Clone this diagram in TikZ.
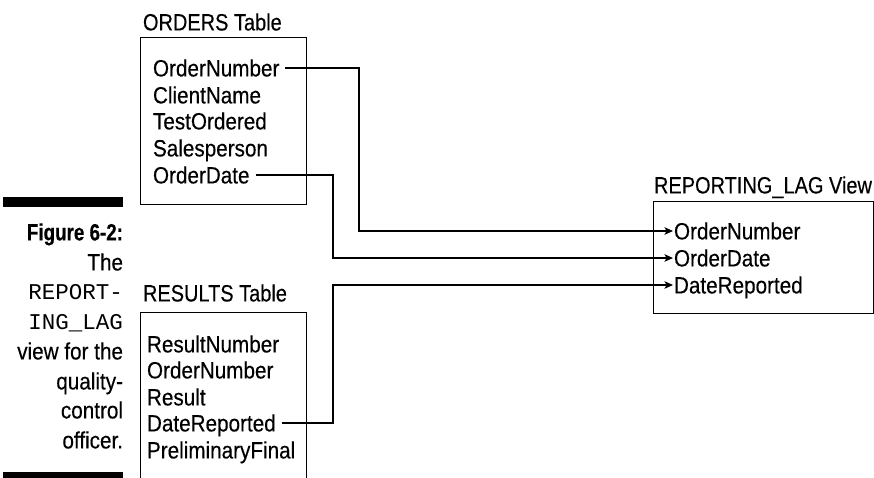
\documentclass[tikz,border=0pt]{standalone}
\usepackage{fontspec}
\setmainfont[FakeStretch=0.88,FakeBold=0.3,BoldFeatures={FakeStretch=0.8}]{Liberation Sans}
\newfontfamily\titlefont[FakeStretch=0.85,FakeBold=0.3]{Liberation Sans}
\setmonofont{Liberation Mono}
\usetikzlibrary{arrows.meta}
\begin{document}
\begin{tikzpicture}[x=1pt,y=-1pt,
  txt/.style={inner sep=0pt,outer sep=0pt,font=\fontsize{23.5}{28}\selectfont,text height=16.8pt,text depth=0pt},
  fld/.style={txt,anchor=west},
  ttl/.style={fld,font=\fontsize{23.5}{28}\titlefont},
  capline/.style={txt,anchor=east},
  tbl/.style={draw=black,line width=1pt},
  link/.style={draw=black,line width=1.1pt},
  arr/.style={link,-{Stealth[length=8.5pt,width=7.5pt,inset=2pt]}},
  bar/.style={fill=black,draw=none}]
\useasboundingbox (0,0) rectangle (874,477);
% caption
\fill[bar] (3,197) rectangle (123,207);
\fill[bar] (3,472) rectangle (123,480);
\node[capline,font=\fontsize{23.5}{28}\bfseries\selectfont] (c1) at (123,232) {Figure 6-2:};
\node[capline] (c2) at (123,262) {The};
\node[capline,font=\fontsize{22.5}{28}\ttfamily\selectfont] (c3) at (123,291) {REPORT-};
\node[capline,font=\fontsize{22.5}{28}\ttfamily\selectfont] (c4) at (123,321) {ING\_LAG};
\node[capline] (c5) at (123,351) {view for the};
\node[capline] (c6) at (123,381) {quality-};
\node[capline] (c7) at (123,410) {control};
\node[capline] (c8) at (123,440) {officer.};
% ORDERS table
\node[ttl] (ot) at (143,22) {ORDERS Table};
\draw[tbl] (140,37) rectangle (306,204);
\node[fld] (o1) at (153,68) {OrderNumber};
\node[fld] (o2) at (153,95) {ClientName};
\node[fld] (o3) at (153,121) {TestOrdered};
\node[fld] (o4) at (153,148) {Salesperson};
\node[fld] (o5) at (153,175) {OrderDate};
% RESULTS table
\node[ttl] (rt) at (143,293) {RESULTS Table};
\draw[tbl] (140,478) -- (140,312) -- (306,312) -- (306,478);
\node[fld] (r1) at (147,344) {ResultNumber};
\node[fld] (r2) at (147,370) {OrderNumber};
\node[fld] (r3) at (147,397) {Result};
\node[fld] (r4) at (147,423) {DateReported};
\node[fld] (r5) at (147,450) {PreliminaryFinal};
% view
\node[ttl] (vt) at (654,185) {REPORTING\_LAG View};
\draw[tbl] (653,201) rectangle (873,313);
\node[fld] (v1) at (674,231) {OrderNumber};
\node[fld] (v2) at (674,258) {OrderDate};
\node[fld] (v3) at (674,285) {DateReported};
% connectors
\coordinate (k1) at (359,68);
\coordinate (k2) at (333,175);
\coordinate (k3) at (333,423);
\draw[arr] ([xshift=6pt]o1.east) -- (k1) |- ([xshift=-1pt]v1.west);
\draw[arr] ([xshift=6pt]o5.east) -- (k2) |- ([xshift=-1pt]v2.west);
\draw[arr] ([xshift=6pt]r4.east) -- (k3) |- ([xshift=-1pt]v3.west);
\end{tikzpicture}
\end{document}
